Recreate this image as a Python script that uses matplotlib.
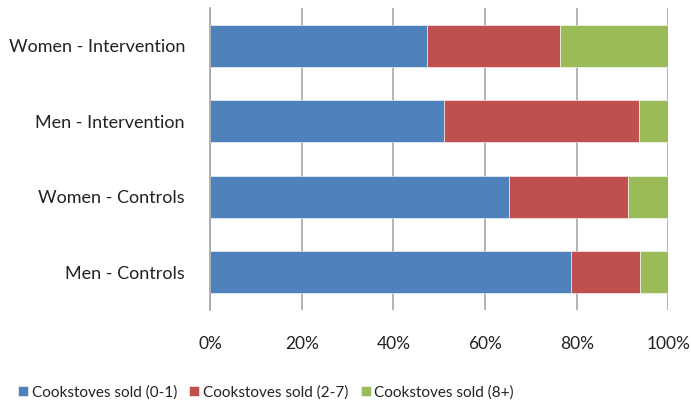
import matplotlib.pyplot as plt
import numpy as np

plt.rcParams['font.family'] = ['Lato', 'DejaVu Sans']

groups = ['Women - Intervention', 'Men - Intervention', 'Women - Controls', 'Men - Controls']
sold_0_1 = [47.4, 51.1, 65.3, 78.8]
sold_2_7 = [29.0, 42.4, 25.8, 15.0]
sold_8p = [23.6, 6.5, 8.9, 6.2]
series_names = ['Cookstoves sold (0-1)', 'Cookstoves sold (2-7)', 'Cookstoves sold (8+)']
colors = ['#4F81BD', '#C0504D', '#9BBB59']

fig = plt.figure(figsize=(6.91, 4.08), dpi=100)
ax = fig.add_axes([0.3039, 0.2402, 0.6633, 0.7402])

y = np.arange(len(groups))
left = np.zeros(len(groups))
for vals, name, c in zip([sold_0_1, sold_2_7, sold_8p], series_names, colors):
    ax.barh(y, vals, left=left, height=0.56, color=c, label=name,
            edgecolor='white', linewidth=0.4)
    left = left + np.array(vals)

ax.set_xlim(0, 100)
ax.set_ylim(3.5, -0.5)
ax.set_yticks(y)
ax.set_yticklabels(groups, fontsize=13, color='#222222')
ax.set_xticks(range(0, 101, 20))
ax.set_xticklabels([f'{v}%' for v in range(0, 101, 20)], fontsize=12.5, color='#222222')
ax.tick_params(axis='x', length=0, pad=19)
ax.tick_params(axis='y', length=0, pad=18)
ax.xaxis.grid(True, color='#A6A6A6', linewidth=1.2)
ax.set_axisbelow(True)
for s in ['top', 'right', 'bottom']:
    ax.spines[s].set_visible(False)
ax.spines['left'].set_color('#A6A6A6')
ax.spines['left'].set_linewidth(1.2)

leg = fig.legend(loc='center', bbox_to_anchor=(0.385, 0.039), ncol=3, frameon=False,
                 fontsize=11, handlelength=0.65, handleheight=0.65,
                 handletextpad=0.25, columnspacing=0.8)
for t in leg.get_texts():
    t.set_color('#222222')

plt.savefig('out.png', dpi=100)
